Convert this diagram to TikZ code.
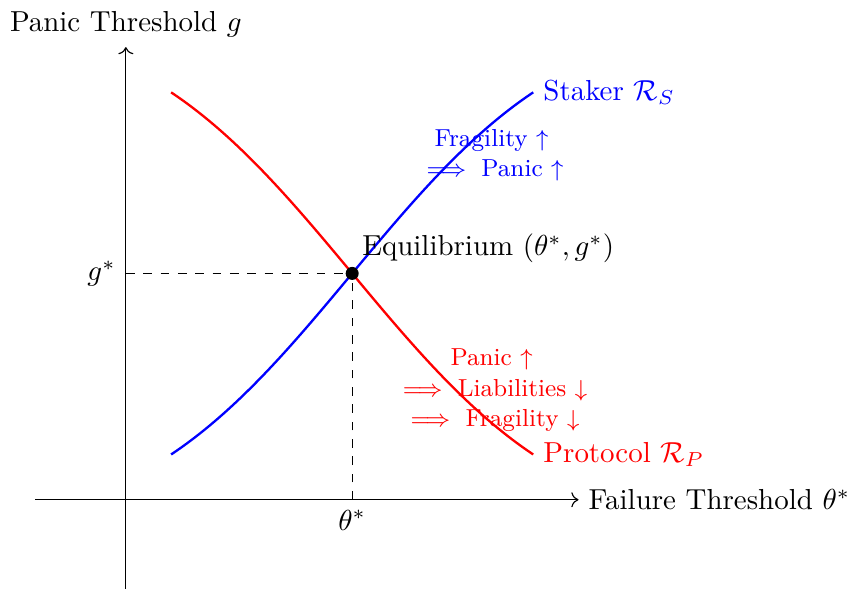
\documentclass[tikz,border=0pt]{standalone}
\usepackage{amsmath}
\usepackage{tikz}
\usetikzlibrary{arrows.meta,positioning,calc}
\tikzset{
  axisline/.style={->, draw=black, line width=0.4pt},
  guide/.style={dashed, draw=black, line width=0.4pt},
  stakercurve/.style={draw=blue, thick},
  protocurve/.style={draw=red, thick},
  note/.style={font=\fontsize{8.5}{10.4}\selectfont, align=center},
}

\begin{document}
\begin{tikzpicture}[x=1.1cm,y=1.1cm]
\useasboundingbox (-1.39,-0.98) rectangle (8.01,5.52);
% axes
\coordinate (xs) at (-1,0);  \coordinate (xe) at (5,0);
\coordinate (ys) at (0,-1);  \coordinate (ye) at (0,5);
\draw[axisline] (xs) -- (xe) node[right] (xlab) {Failure Threshold $\theta^*$};
\draw[axisline] (ys) -- (ye) node[above] (ylab) {Panic Threshold $g$};
% equilibrium guides
\coordinate (eq) at (2.5,2.5);
\coordinate (gx) at (0,2.5);
\coordinate (tx) at (2.5,0);
\draw[guide] (gx) -- (eq);
\draw[guide] (tx) -- (eq);
\node[left]  (gstar) at (gx) {$g^*$};
\node[below] (tstar) at (tx) {$\theta^*$};
% best responses
\coordinate (s0) at (0.5,0.5); \coordinate (s1) at (4.5,4.5);
\coordinate (p0) at (0.5,4.5); \coordinate (p1) at (4.5,0.5);
\draw[stakercurve] (s0) .. controls (2,1.5) and (3,3.5) .. (s1);
\draw[protocurve]  (p0) .. controls (2,3.5) and (3,1.5) .. (p1);
\node[right, text=blue] (slab) at (s1) {Staker $\mathcal{R}_S$};
\node[right, text=red]  (plab) at (p1) {Protocol $\mathcal{R}_P$};
\fill (eq) circle (2.25pt);
\node[above right] (eqlab) at (eq) {Equilibrium $(\theta^*, g^*)$};
% mechanisms
\node[note, text=blue] (smech) at (4.04,3.81) {Fragility $\uparrow$\\$\implies$ Panic $\uparrow$};
\node[note, text=red]  (pmech) at (4.04,1.21) {Panic $\uparrow$\\$\implies$ Liabilities $\downarrow$\\$\implies$ Fragility $\downarrow$};
\end{tikzpicture}
\end{document}
